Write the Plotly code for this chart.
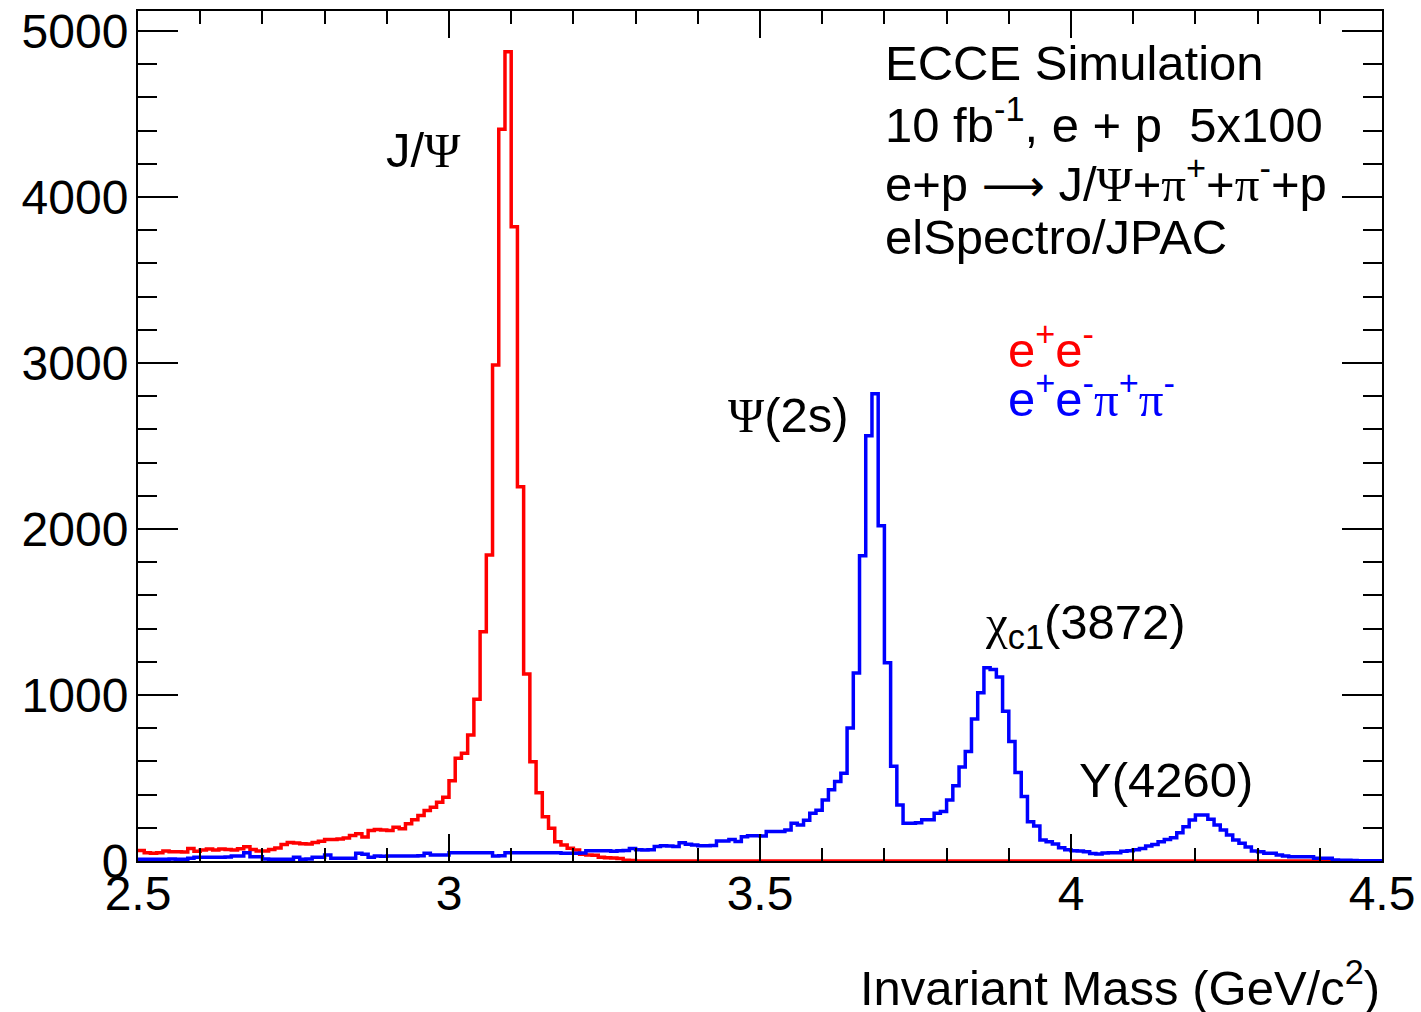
import numpy as np
import plotly.graph_objects as go

# ---- data (bin width 0.01 GeV, 2.5 .. 4.5) ----
x_min = 2.5
x_max = 4.5
n_bins = 200

red_counts = [
    64, 49, 46, 49, 60, 56, 56, 54, 76, 59,
    66, 72, 66, 72, 70, 66, 74, 86, 69, 60,
    60, 69, 79, 99, 112, 109, 104, 102, 112, 119,
    130, 130, 132, 139, 154, 164, 144, 184, 189, 186,
    184, 204, 194, 224, 249, 274, 304, 324, 354, 384,
    484, 619, 649, 759, 974, 1381, 1843, 2988, 4408, 4875,
    3821, 2255, 1127, 598, 411, 267, 197, 116, 96, 77,
    66, 40, 36, 34, 22, 20, 18, 15, 5, 3,
    0, 0, 0, 0, 0, 0, 0, 0, 0, 0,
    0, 0, 0, 0, 0, 0, 0, 0, 0, 0,
    0, 0, 0, 0, 0, 0, 0, 0, 0, 0,
    0, 0, 0, 0, 0, 0, 0, 0, 0, 0,
    0, 0, 0, 0, 0, 0, 0, 0, 0, 0,
    0, 0, 0, 0, 0, 0, 0, 0, 0, 0,
    0, 0, 0, 0, 0, 0, 0, 0, 0, 0,
    0, 0, 0, 0, 0, 0, 0, 0, 0, 0,
    0, 0, 0, 0, 0, 0, 0, 0, 0, 0,
    0, 0, 0, 0, 0, 0, 0, 0, 0, 0,
    0, 0, 0, 0, 0, 0, 0, 0, 0, 0,
    0, 0, 0, 0, 0, 0, 0, 0, 0, 0,
]

blue_counts = [
    10, 10, 10, 10, 10, 12, 10, 10, 16, 22,
    22, 22, 22, 22, 24, 30, 30, 50, 26, 26,
    12, 10, 10, 10, 10, 22, 10, 12, 22, 22,
    36, 16, 16, 16, 16, 46, 40, 22, 30, 28,
    30, 30, 30, 30, 30, 32, 46, 36, 36, 36,
    50, 50, 50, 50, 50, 50, 50, 30, 32, 50,
    50, 50, 50, 50, 50, 50, 50, 50, 46, 46,
    46, 48, 62, 62, 62, 62, 58, 62, 64, 76,
    68, 66, 68, 88, 92, 90, 88, 110, 101, 96,
    92, 92, 94, 120, 121, 130, 118, 146, 152, 152,
    150, 177, 177, 177, 186, 227, 217, 246, 288, 306,
    368, 429, 479, 529, 801, 1133, 1838, 2562, 2814, 2019,
    1194, 570, 338, 228, 228, 231, 248, 248, 288, 298,
    368, 453, 566, 660, 856, 1013, 1164, 1153, 1109, 902,
    720, 533, 388, 237, 211, 127, 116, 103, 80, 68,
    62, 60, 56, 45, 42, 48, 50, 50, 58, 62,
    68, 76, 90, 100, 116, 130, 140, 170, 207, 247,
    277, 277, 251, 217, 187, 157, 127, 107, 85, 60,
    56, 46, 46, 36, 30, 26, 26, 26, 26, 16,
    16, 16, 6, 5, 4, 3, 2, 2, 1, 1,
]

x_ticks = [2.5, 3.0, 3.5, 4.0, 4.5]
x_tick_labels = ["2.5", "3", "3.5", "4", "4.5"]
y_ticks = [0, 1000, 2000, 3000, 4000, 5000]
y_tick_labels = ["0", "1000", "2000", "3000", "4000", "5000"]

# ---------------------------------------------------------------------
edges = np.linspace(x_min, x_max, n_bins + 1)

def step_xy(counts):
    xs = list(edges)
    ys = list(counts) + [counts[-1]]
    return xs, ys

FONT = "Liberation Sans, Arial, Helvetica, sans-serif"
SERIF = "Liberation Serif"
FS_TICK = 48
FS = 49

fig = go.Figure()
rx, ry = step_xy(red_counts)
bx, by = step_xy(blue_counts)
fig.add_trace(go.Scatter(x=rx, y=ry, mode="lines", line_shape="hv",
                         line=dict(color="#ff0000", width=3.5), showlegend=False))
fig.add_trace(go.Scatter(x=bx, y=by, mode="lines", line_shape="hv",
                         line=dict(color="#0000ff", width=3.5), showlegend=False))

fig.update_layout(
    width=1421, height=1012, autosize=False,
    margin=dict(l=138, r=39, t=11, b=151, autoexpand=False),
    paper_bgcolor="white", plot_bgcolor="white",
    font=dict(family=FONT, size=FS, color="black"),
    showlegend=False,
)
fig.update_xaxes(
    range=[x_min, x_max], tickvals=x_ticks, ticktext=x_tick_labels,
    ticks="inside", ticklen=27, tickwidth=1.5, tickcolor="black",
    minor=dict(ticks="inside", ticklen=13, dtick=0.1, tickwidth=1.5, tickcolor="black"),
    showline=True, linecolor="black", linewidth=2, mirror="allticks",
    showgrid=False, zeroline=False, automargin=False,
    tickfont=dict(family=FONT, size=FS_TICK, color="black"),
    ticklabelstandoff=-11,
)
fig.update_yaxes(
    range=[0, 5120], tickvals=y_ticks, ticktext=y_tick_labels,
    ticks="inside", ticklen=40, tickwidth=1.5, tickcolor="black",
    minor=dict(ticks="inside", ticklen=19, dtick=200, tickwidth=1.5, tickcolor="black"),
    showline=True, linecolor="black", linewidth=2, mirror="allticks",
    showgrid=False, zeroline=False, automargin=False,
    tickfont=dict(family=FONT, size=FS_TICK, color="black"),
    ticklabelstandoff=-2,
)

def px_x(p):
    return (p - 138) / 1244.0

def px_y(p):
    return (861 - p) / 850.0

def ann(text, x, y, xanchor="left", yanchor="middle", color="black", size=FS):
    fig.add_annotation(text=text, x=px_x(x), y=px_y(y), xref="paper", yref="paper",
                       xanchor=xanchor, yanchor=yanchor, showarrow=False,
                       font=dict(family=FONT, size=size, color=color))

def g(ch):
    return "<span style='font-family:%s'>%s</span>" % (SERIF, ch)

ARROW = "<span style='font-family:DejaVu Sans;font-size:44px'>⟶</span>"

# top-right text block
ann("ECCE Simulation", 883, 63)
ann("10 fb<sup>-1</sup>, e + p  5x100", 883, 121)
ann("e+p " + ARROW + " J/" + g("Ψ") + "+" + g("π") + "<sup>+</sup>+" + g("π") + "<sup>-</sup>+p", 883, 180)
ann("elSpectro/JPAC", 883, 237)

# legend text
ann("e<sup>+</sup>e<sup>-</sup>", 1006, 346, color="#ff0000")
ann("e<sup>+</sup>e<sup>-</sup>" + g("π") + "<sup>+</sup>" + g("π") + "<sup>-</sup>", 1006, 396, color="#0000ff")

# peak labels
ann("J/" + g("Ψ"), 423, 150, xanchor="center")
ann(g("Ψ") + "(2s)", 788, 415, xanchor="center")
ann(g("χ") + "<sub>c1</sub>(3872)", 983, 625)
ann("Y(4260)", 1166, 780, xanchor="center")

# x-axis title
ann("Invariant Mass (GeV/c<sup>2</sup>)", 1382, 984, xanchor="right")

fig.write_html("out.html", config={"displayModeBar": False})

# remove the browser's default page margin so the figure sits at (0, 0)
with open("out.html", "r", encoding="utf-8") as fh:
    html = fh.read()
html = html.replace("<head>", "<head><style>html,body{margin:0;padding:0;overflow:hidden;}</style>", 1)
with open("out.html", "w", encoding="utf-8") as fh:
    fh.write(html)
